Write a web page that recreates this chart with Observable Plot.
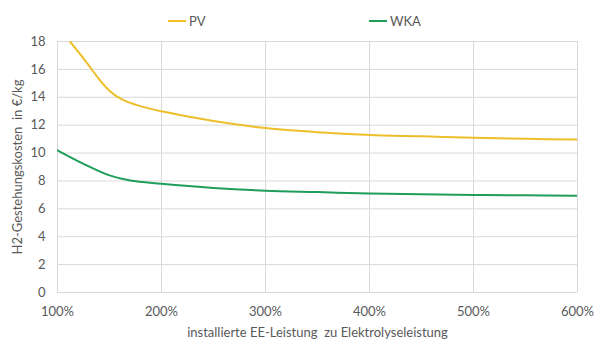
<!DOCTYPE html>
<html><head><meta charset="utf-8">
<script src="https://cdn.jsdelivr.net/npm/d3@7"></script>
<script src="https://cdn.jsdelivr.net/npm/@observablehq/plot@0.6"></script>
<style>
body{margin:0;background:#fff;font-family:Lato,"Open Sans",sans-serif;}
#wrap{position:relative;width:600px;height:346px;}
.leg{position:absolute;top:13px;font-size:13px;color:#595959;display:flex;align-items:center;}
.leg span.sw{display:inline-block;width:18px;height:2px;margin-right:3px;}
</style></head>
<body><div id="wrap"></div>
<script>
const seriesNames = ["PV", "WKA"];
const colors = ["#EDBE2A", "#1E9E5A"];
const pvX = [112, 127, 140, 151, 162, 178, 200, 250, 300, 350, 400, 450, 500, 550, 600];
const pvY = [18.0, 16.6, 15.3, 14.4, 13.85, 13.4, 13.0, 12.3, 11.8, 11.5, 11.3, 11.2, 11.1, 11.02, 10.97];
const wkaX = [100, 125, 150, 170, 200, 250, 300, 350, 400, 450, 500, 550, 600];
const wkaY = [10.2, 9.23, 8.4, 8.03, 7.8, 7.5, 7.3, 7.2, 7.1, 7.05, 7.0, 6.97, 6.94];
const xTicks = [100, 200, 300, 400, 500, 600];
const yTicks = [0, 2, 4, 6, 8, 10, 12, 14, 16, 18];

const data = [
  ...pvX.map((x, i) => ({s: "PV", x, y: pvY[i]})),
  ...wkaX.map((x, i) => ({s: "WKA", x, y: wkaY[i]}))
];
const xLabel = "installierte EE-Leistung\u00a0\u00a0zu Elektrolyseleistung";
const yLabel = "H2-Gestehungskosten\u00a0\u00a0in €/kg";

const chart = Plot.plot({
  width: 600, height: 346,
  marginLeft: 57, marginRight: 23, marginTop: 41, marginBottom: 54,
  style: {fontFamily: "Lato, 'Open Sans', sans-serif", fontSize: "13px", color: "#595959", background: "white"},
  x: {domain: [100, 600]},
  y: {domain: [0, 18]},
  color: {domain: seriesNames, range: colors},
  marks: [
    Plot.gridX(xTicks, {stroke: "#D9D9D9", strokeOpacity: 1}),
    Plot.gridY(yTicks, {stroke: "#D9D9D9", strokeOpacity: 1}),
    Plot.axisX({ticks: xTicks, tickFormat: d => d + "%", tickSize: 0, tickPadding: 14, fill: "#595959", label: xLabel, labelAnchor: "center", labelOffset: 44, labelArrow: "none"}),
    Plot.axisY({ticks: yTicks, tickSize: 0, tickPadding: 12, fill: "#595959", label: yLabel, labelAnchor: "center", labelOffset: 45, labelArrow: "none"}),
    Plot.line(data, {x: "x", y: "y", z: "s", stroke: "s", strokeWidth: 2, curve: "catmull-rom", clip: true})
  ]
});
const wrap = document.getElementById("wrap");
wrap.appendChild(chart);
const legPos = [168, 369];
seriesNames.forEach((n, i) => {
  const d = document.createElement("div");
  d.className = "leg";
  d.style.left = legPos[i] + "px";
  d.innerHTML = `<span class="sw" style="background:${colors[i]}"></span>${n}`;
  wrap.appendChild(d);
});
</script></body></html>
